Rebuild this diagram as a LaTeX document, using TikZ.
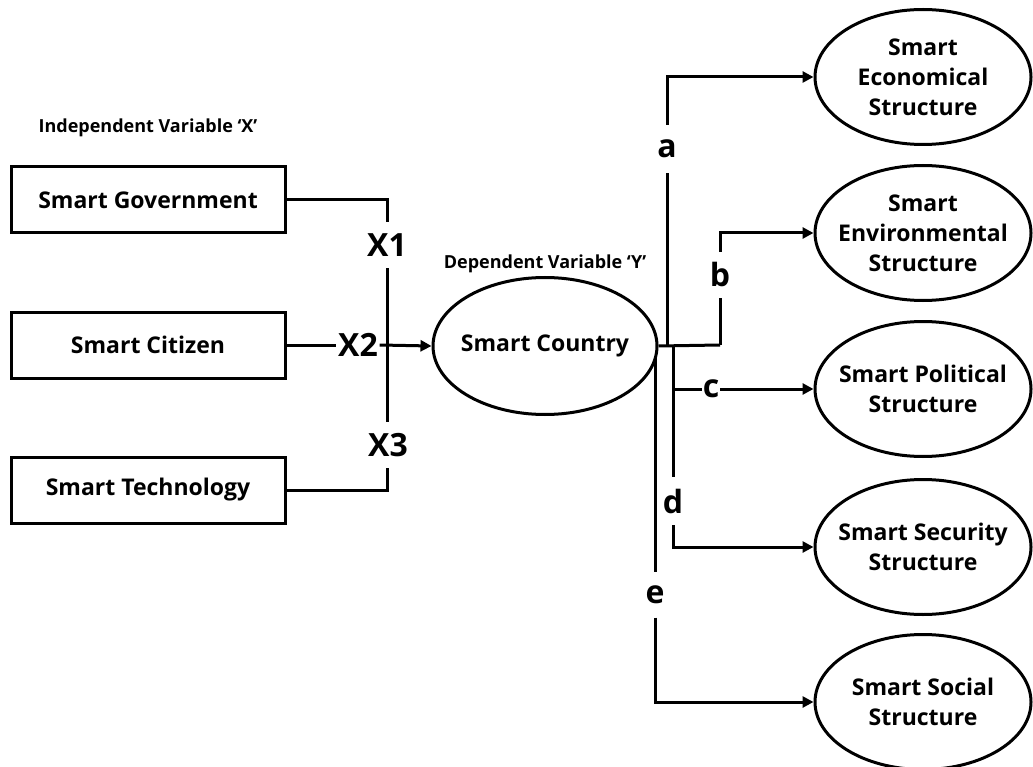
\documentclass[tikz,border=0pt]{standalone}
\usepackage{fontspec}
\setmainfont{Open Sans}
\usetikzlibrary{arrows.meta,shapes.geometric}
\pgfdeclarelayer{bg}
\pgfsetlayers{bg,main}
\begin{document}
\begin{tikzpicture}[x=1pt,y=-1pt,
  every node/.style={font=\bfseries},
  varbox/.style={draw,line width=3pt,fill=white,minimum width=274pt,minimum height=66pt,inner sep=0pt,font=\bfseries\fontsize{23}{28}\selectfont},
  oval/.style={draw,ellipse,line width=3pt,fill=white,inner xsep=-25pt,inner ysep=-20pt,align=center},
  outcome/.style={oval,minimum width=216pt,minimum height=135pt,font=\bfseries\fontsize{23}{30}\selectfont},
  pathlab/.style={inner sep=0pt,minimum height=46pt,minimum width=16pt,font=\bfseries\fontsize{32}{36}\selectfont},
  caption/.style={font=\bfseries\fontsize{18}{21}\selectfont},
  link/.style={line width=3pt},
  flow/.style={line width=3pt,-{Triangle[length=11pt,width=11pt]}}
]
\useasboundingbox (0,0) rectangle (1033,767);

% independent variables
\node[caption] (capx) at (148,128) {Independent Variable ‘X’};
\node[varbox] (gov) at (148,200) {Smart Government};
\node[varbox] (cit) at (148,345) {Smart Citizen};
\node[varbox] (tech) at (148,490) {Smart Technology};

% dependent variable
\node[caption] (capy) at (545,264) {Dependent Variable ‘Y’};
\node[oval,minimum width=224pt,minimum height=137pt,font=\bfseries\fontsize{23}{28}\selectfont] (country) at (545,346) {Smart Country};

% structures
\node[outcome] (eco) at (923,77) {Smart\\Economical\\Structure};
\node[outcome] (env) at (923,233) {Smart\\Environmental\\Structure};
\node[outcome] (pol) at (923,389) {Smart Political\\Structure};
\node[outcome] (sec) at (923,547) {Smart Security\\Structure};
\node[outcome] (soc) at (923,702) {Smart Social\\Structure};

% path labels
\node[pathlab] (x1) at (387,245) {X1};
\node[pathlab,minimum width=43pt] (x2) at (358,345) {X2};
\node[pathlab] (x3) at (388,445) {X3};
\node[pathlab,minimum height=48pt] (la) at (667,149) {a};
\node[pathlab] (lb) at (720,275) {b};
\node[pathlab,minimum width=18pt,minimum height=30pt] (lc) at (711,389) {c};
\node[pathlab,minimum height=48pt] (ld) at (673,501) {d};
\node[pathlab,minimum height=45pt] (le) at (655,595) {e};

% junction points
\coordinate (hub) at (720,345);
\coordinate (ja) at (667,345);
\coordinate (jc) at (673,345);
\coordinate (je) at (655,345);
\coordinate (jx) at (387,345);

\begin{pgfonlayer}{bg}
  % inputs to the dependent variable
  \draw[link] (gov.east) -| (x1.north);
  \draw[link] (x1.south) -- (jx) -- (x3.north -| jx);
  \draw[link] (x3.south -| jx) |- (tech.east);
  \draw[link] (cit.east) -- (x2.west);
  \draw[flow] (x2.east) -- (country.west);
  % outputs to the structures
  \draw[link] (country.east) -- (hub);
  \draw[link] (hub) -- (lb.south);
  \draw[flow] (lb.north) |- (env.west);
  \draw[link] (ja) -- (la.south);
  \draw[flow] (la.north) |- (eco.west);
  \draw[link] (jc) -- (ld.north);
  \draw[flow] (ld.south) |- (sec.west);
  \draw[link] (jc |- pol.west) -- (lc.west);
  \draw[flow] (lc.east) -- (pol.west);
  \draw[link] (je) -- (le.north);
  \draw[flow] (le.south) |- (soc.west);
\end{pgfonlayer}
\end{tikzpicture}
\end{document}
